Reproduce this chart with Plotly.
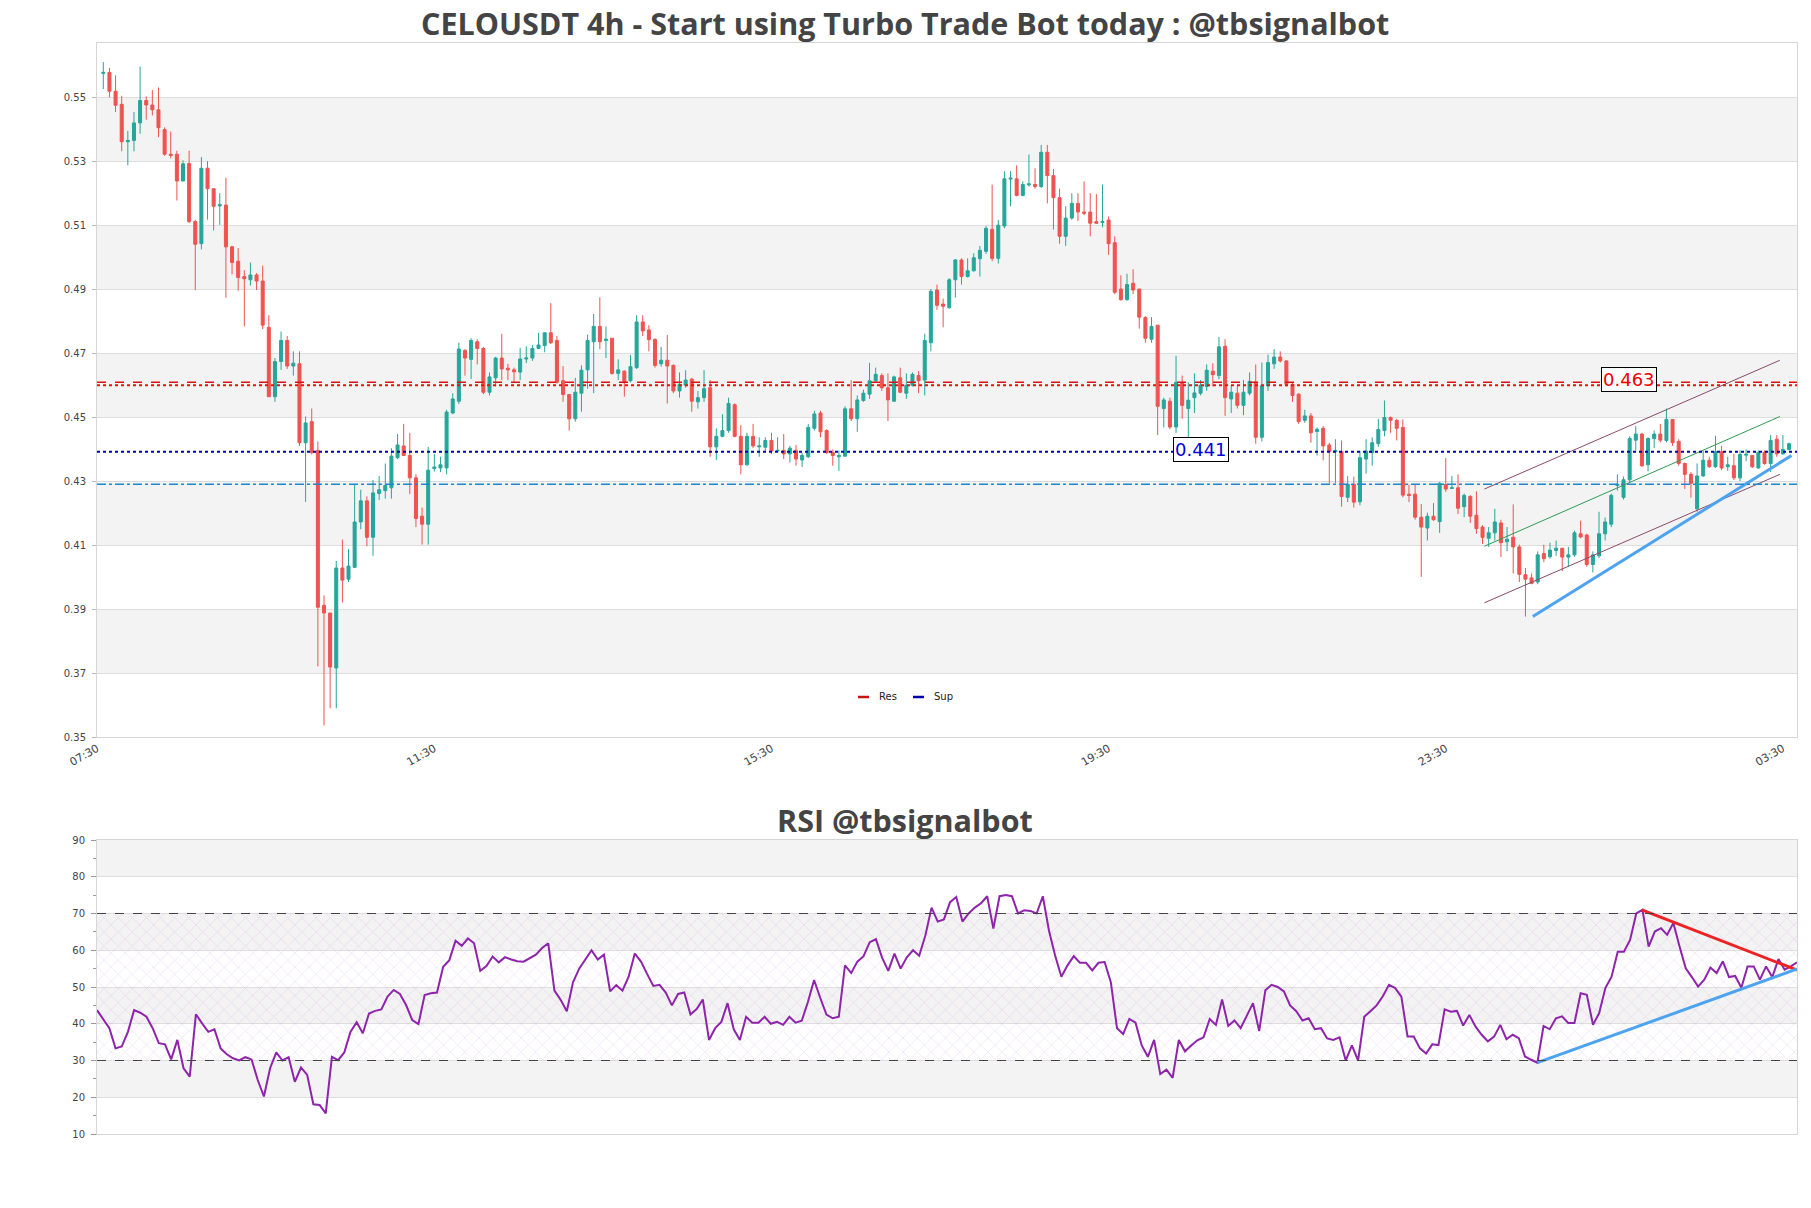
import plotly.graph_objects as go

# ---------------- data ----------------
opens = [0.5577,0.5580,0.5521,0.5480,0.5363,0.5367,0.5422,0.5492,0.5478,0.5463,
0.5401,0.5324,0.5324,0.5240,0.5295,0.5113,0.5044,0.5280,0.5216,0.5162,
0.5165,0.5034,0.4989,0.4941,0.4931,0.4946,0.4927,0.4782,0.4565,0.4675,
0.4741,0.4661,0.4668,0.4421,0.4487,0.4397,0.3912,0.3888,0.3716,0.4029,
0.3994,0.4031,0.4173,0.4239,0.4125,0.4262,0.4271,0.4280,0.4374,0.4411,
0.4381,0.4311,0.4191,0.4166,0.4340,
0.4342,0.4342,0.4514,0.4551,0.4710,0.4682,0.4737,0.4716,0.4579,0.4624,
0.4686,0.4654,0.4649,0.4642,0.4683,0.4686,0.4716,0.4725,0.4765,0.4741,
0.4615,0.4572,0.4496,0.4576,0.4649,0.4737,0.4785,0.4741,0.4748,0.4638,
0.4645,0.4615,0.4656,0.4799,0.4774,0.4744,0.4668,0.4679,0.4663,0.4583,
0.4601,0.4620,0.4549,0.4562,0.4593,0.4408,0.4441,0.4459,0.4540,0.4441,
0.4352,0.4441,0.4408,0.4407,0.4428,0.4395,
0.4397,0.4386,0.4397,0.4367,0.4377,0.4466,0.4514,0.4459,0.4390,0.4377,
0.4379,0.4527,0.4496,0.4553,0.4573,0.4615,0.4631,0.4593,0.4551,0.4624,
0.4576,0.4601,0.4631,0.4617,0.4734,0.4899,0.4855,0.4844,0.4931,0.4993,
0.4941,0.4959,0.4997,0.5020,0.5089,0.4998,0.5099,0.5246,0.5247,0.5195,
0.5228,0.5229,0.5223,0.5330,0.5257,0.5188,0.5067,0.5124,0.5170,0.5143,
0.5143,0.5113,0.5110,0.5118,0.5047,
0.4902,0.4869,0.4920,0.4902,0.4813,0.4745,0.4789,0.4528,0.4551,0.4470,
0.4610,0.4528,0.4562,0.4576,0.4597,0.4645,0.4631,0.4723,0.4558,0.4576,
0.4538,0.4576,0.4610,0.4438,0.4599,0.4668,0.4689,0.4677,0.4604,0.4573,
0.4491,0.4505,0.4456,0.4466,0.4414,0.4393,0.4393,0.4250,0.4291,0.4236,
0.4370,0.4390,0.4418,0.4459,0.4500,0.4491,0.4469,0.4260,0.4260,0.4188,
0.4154,0.4191,0.4174,0.4290,0.4278,
0.4280,0.4221,0.4253,0.4194,0.4157,0.4122,0.4139,0.4170,0.4111,0.4125,
0.4095,0.4008,0.3998,0.3985,0.4074,0.4064,0.4084,0.4091,0.4063,0.4070,
0.4136,0.4132,0.4040,0.4067,0.4136,0.4166,0.4287,0.4250,0.4305,0.4429,
0.4448,0.4352,0.4434,0.4448,0.4428,0.4494,0.4425,0.4356,0.4322,0.4214,
0.4317,0.4366,0.4346,0.4393,0.4346,0.4349,0.4311,0.4382,0.4381,0.4342,
0.4390,0.4356,0.4432,0.4386,0.4400]

highs = [0.5612,0.5594,0.5571,0.5507,0.5397,0.5456,0.5598,0.5505,0.5525,0.5533,
0.5408,0.5395,0.5335,0.5305,0.5335,0.5119,0.5315,0.5302,0.5216,0.5202,
0.5250,0.5037,0.5030,0.4961,0.4985,0.4952,0.4975,0.4820,0.4686,0.4769,
0.4755,0.4707,0.4707,0.4503,0.4528,0.4425,0.3943,0.3888,0.4051,0.4118,
0.4088,0.4291,0.4274,0.4253,0.4304,0.4317,0.4356,0.4404,0.4448,0.4480,
0.4452,0.4322,0.4218,0.4408,0.4386,
0.4377,0.4524,0.4576,0.4734,0.4714,0.4748,0.4745,0.4721,0.4641,0.4690,
0.4762,0.4668,0.4656,0.4718,0.4723,0.4727,0.4765,0.4766,0.4858,0.4755,
0.4661,0.4572,0.4624,0.4663,0.4759,0.4824,0.4876,0.4785,0.4748,0.4682,
0.4648,0.4696,0.4820,0.4820,0.4789,0.4748,0.4721,0.4758,0.4666,0.4641,
0.4648,0.4624,0.4583,0.4648,0.4617,0.4466,0.4510,0.4562,0.4544,0.4476,
0.4452,0.4480,0.4438,0.4438,0.4452,0.4438,
0.4448,0.4411,0.4414,0.4390,0.4480,0.4521,0.4521,0.4463,0.4400,0.4397,
0.4535,0.4617,0.4569,0.4587,0.4671,0.4656,0.4638,0.4638,0.4631,0.4656,
0.4638,0.4641,0.4645,0.4762,0.4902,0.4916,0.4872,0.4936,0.4996,0.4998,
0.4998,0.5014,0.5037,0.5099,0.5229,0.5119,0.5271,0.5271,0.5289,0.5239,
0.5323,0.5280,0.5353,0.5353,0.5278,0.5216,0.5161,0.5202,0.5202,0.5239,
0.5202,0.5199,0.5229,0.5129,0.5067,
0.4945,0.4950,0.4964,0.4902,0.4817,0.4814,0.4789,0.4562,0.4562,0.4693,
0.4631,0.4610,0.4638,0.4617,0.4666,0.4670,0.4752,0.4745,0.4601,0.4601,
0.4617,0.4641,0.4666,0.4672,0.4697,0.4714,0.4707,0.4679,0.4610,0.4576,
0.4524,0.4514,0.4469,0.4473,0.4421,0.4432,0.4428,0.4317,0.4315,0.4395,
0.4432,0.4438,0.4496,0.4553,0.4503,0.4496,0.4494,0.4290,0.4290,0.4229,
0.4202,0.4232,0.4298,0.4373,0.4317,
0.4322,0.4262,0.4257,0.4269,0.4163,0.4157,0.4214,0.4180,0.4157,0.4228,
0.4102,0.4029,0.4012,0.4081,0.4102,0.4108,0.4115,0.4091,0.4095,0.4146,
0.4177,0.4136,0.4081,0.4205,0.4187,0.4262,0.4322,0.4315,0.4441,0.4473,
0.4452,0.4438,0.4459,0.4480,0.4528,0.4494,0.4432,0.4359,0.4329,0.4356,
0.4395,0.4377,0.4443,0.4411,0.4377,0.4386,0.4397,0.4400,0.4381,0.4397,
0.4397,0.4445,0.4445,0.4445,0.4421]

lows = [0.5528,0.5502,0.5456,0.5333,0.5289,0.5333,0.5388,0.5432,0.5445,0.5377,
0.5319,0.5311,0.5179,0.5240,0.5108,0.4899,0.5026,0.5119,0.5085,0.5103,
0.4875,0.4948,0.4897,0.4785,0.4913,0.4899,0.4776,0.4565,0.4549,0.4649,
0.4652,0.4631,0.4411,0.4236,0.4384,0.3721,0.3536,0.3590,0.3590,0.3921,
0.3985,0.4029,0.4150,0.4097,0.4067,0.4242,0.4246,0.4246,0.4370,0.4379,
0.4260,0.4157,0.4102,0.4102,0.4331,
0.4329,0.4322,0.4510,0.4542,0.4631,0.4620,0.4666,0.4573,0.4569,0.4597,
0.4617,0.4617,0.4610,0.4617,0.4670,0.4677,0.4714,0.4704,0.4730,0.4606,
0.4549,0.4459,0.4487,0.4518,0.4590,0.4576,0.4714,0.4686,0.4634,0.4617,
0.4565,0.4610,0.4652,0.4755,0.4707,0.4656,0.4659,0.4544,0.4576,0.4562,
0.4593,0.4518,0.4528,0.4549,0.4377,0.4367,0.4438,0.4452,0.4438,0.4322,
0.4349,0.4404,0.4377,0.4395,0.4386,0.4390,
0.4370,0.4359,0.4349,0.4345,0.4373,0.4459,0.4438,0.4386,0.4349,0.4333,
0.4377,0.4489,0.4455,0.4549,0.4558,0.4608,0.4583,0.4489,0.4549,0.4576,
0.4558,0.4597,0.4576,0.4569,0.4707,0.4837,0.4782,0.4840,0.4875,0.4916,
0.4938,0.4957,0.4941,0.5012,0.4989,0.4982,0.5092,0.5161,0.5192,0.5192,
0.5223,0.5216,0.5218,0.5170,0.5088,0.5044,0.5037,0.5119,0.5115,0.5133,
0.5067,0.5106,0.5095,0.5009,0.4886,
0.4865,0.4865,0.4886,0.4778,0.4734,0.4734,0.4445,0.4469,0.4463,0.4452,
0.4496,0.4432,0.4514,0.4569,0.4583,0.4597,0.4620,0.4505,0.4514,0.4528,
0.4507,0.4569,0.4418,0.4425,0.4583,0.4652,0.4672,0.4597,0.4549,0.4480,
0.4483,0.4421,0.4381,0.4366,0.4294,0.4294,0.4221,0.4235,0.4218,0.4225,
0.4324,0.4349,0.4408,0.4441,0.4452,0.4428,0.4250,0.4235,0.4180,0.4001,
0.4115,0.4177,0.4139,0.4267,0.4276,
0.4198,0.4188,0.4170,0.4136,0.4104,0.4095,0.4115,0.4063,0.4081,0.4012,
0.3985,0.3877,0.3978,0.3978,0.4047,0.4058,0.4067,0.4019,0.4033,0.4064,
0.4122,0.4033,0.4015,0.4060,0.4115,0.4157,0.4271,0.4243,0.4297,0.4397,
0.4345,0.4331,0.4404,0.4422,0.4422,0.4411,0.4349,0.4276,0.4249,0.4205,
0.4315,0.4342,0.4342,0.4335,0.4333,0.4304,0.4301,0.4363,0.4342,0.4340,
0.4352,0.4329,0.4377,0.4384,0.4397]

closes = [0.5580,0.5521,0.5477,0.5363,0.5367,0.5422,0.5492,0.5478,0.5463,0.5407,
0.5324,0.5320,0.5240,0.5294,0.5113,0.5042,0.5280,0.5216,0.5161,0.5166,
0.5034,0.4985,0.4938,0.4934,0.4946,0.4927,0.4789,0.4565,0.4675,0.4741,
0.4661,0.4670,0.4421,0.4483,0.4390,0.3906,0.3888,0.3719,0.4029,0.3991,
0.4035,0.4173,0.4239,0.4125,0.4264,0.4274,0.4287,0.4379,0.4414,0.4381,
0.4311,0.4184,0.4166,0.4335,0.4345,
0.4352,0.4517,0.4558,0.4714,0.4686,0.4741,0.4716,0.4579,0.4627,0.4686,
0.4652,0.4649,0.4643,0.4683,0.4686,0.4716,0.4727,0.4765,0.4734,0.4610,
0.4572,0.4496,0.4579,0.4648,0.4741,0.4785,0.4737,0.4745,0.4638,0.4649,
0.4610,0.4659,0.4799,0.4771,0.4744,0.4663,0.4679,0.4661,0.4583,0.4604,
0.4617,0.4551,0.4562,0.4590,0.4408,0.4441,0.4459,0.4544,0.4441,0.4352,
0.4441,0.4411,0.4411,0.4428,0.4395,0.4397,
0.4386,0.4404,0.4370,0.4381,0.4469,0.4511,0.4455,0.4390,0.4381,0.4381,
0.4527,0.4496,0.4555,0.4576,0.4615,0.4635,0.4593,0.4555,0.4627,0.4579,
0.4601,0.4635,0.4615,0.4741,0.4895,0.4851,0.4848,0.4931,0.4993,0.4941,
0.4959,0.5000,0.5023,0.5092,0.4998,0.5102,0.5247,0.5249,0.5195,0.5229,
0.5231,0.5223,0.5330,0.5257,0.5188,0.5067,0.5124,0.5170,0.5143,0.5139,
0.5108,0.5108,0.5113,0.5044,0.4892,
0.4869,0.4916,0.4899,0.4814,0.4748,0.4785,0.4535,0.4555,0.4470,0.4610,
0.4538,0.4554,0.4577,0.4601,0.4648,0.4634,0.4721,0.4562,0.4579,0.4538,
0.4579,0.4613,0.4438,0.4599,0.4672,0.4689,0.4677,0.4604,0.4569,0.4487,
0.4505,0.4452,0.4463,0.4411,0.4393,0.4397,0.4253,0.4291,0.4235,0.4374,
0.4395,0.4421,0.4462,0.4500,0.4491,0.4466,0.4257,0.4256,0.4188,0.4157,
0.4191,0.4180,0.4294,0.4276,0.4280,
0.4216,0.4256,0.4191,0.4152,0.4125,0.4139,0.4173,0.4108,0.4119,0.4095,
0.4009,0.3994,0.3981,0.4070,0.4058,0.4085,0.4091,0.4063,0.4070,0.4139,
0.4126,0.4040,0.4070,0.4136,0.4173,0.4256,0.4291,0.4305,0.4434,0.4448,
0.4349,0.4434,0.4448,0.4429,0.4494,0.4421,0.4356,0.4322,0.4294,0.4317,
0.4366,0.4346,0.4393,0.4342,0.4352,0.4311,0.4384,0.4385,0.4346,0.4390,
0.4356,0.4428,0.4386,0.4400,0.4418]

rsi = [43.7,41.2,38.8,33.3,33.8,37.8,43.7,43.0,41.9,38.8,
34.7,34.4,30.3,35.6,27.9,25.6,42.6,40.1,37.8,38.5,
33.3,31.7,30.6,30.0,30.9,30.3,24.7,20.2,27.9,32.2,
30.0,30.9,24.2,28.1,26.1,18.1,17.9,15.6,31.0,30.1,
32.2,37.8,40.4,37.4,42.8,43.5,43.9,47.4,49.2,48.1,
45.1,41.0,39.9,47.8,48.3,48.5,55.5,57.3,62.6,61.2,
63.2,61.9,54.4,55.7,58.3,56.7,58.1,57.5,57.0,56.9,
57.8,58.8,60.6,61.9,49.0,46.5,43.4,51.3,55.0,57.5,
60.0,57.5,58.8,48.8,50.5,49.0,52.8,59.1,56.9,53.5,
50.3,50.6,48.5,45.0,48.1,48.5,42.5,44.0,46.6,35.6,
38.8,40.5,45.6,38.5,35.6,41.9,40.3,40.3,41.9,40.0,
40.5,39.7,41.9,40.3,40.8,45.9,51.9,47.0,42.5,41.5,
41.9,55.9,53.8,56.9,58.4,62.2,63.0,58.0,54.4,59.1,
55.0,58.1,60.0,58.5,64.0,71.6,67.8,68.4,73.1,74.5,
67.8,70.0,71.6,72.8,74.7,65.9,74.7,75.0,74.7,70.0,
70.9,70.7,70.0,74.7,65.3,58.5,52.8,55.9,58.4,56.6,
56.6,54.5,56.6,56.8,51.3,38.8,37.2,41.3,40.3,34.1,
31.0,35.6,26.3,27.5,25.3,35.6,32.5,34.1,35.5,36.3,
41.3,39.7,46.6,39.4,40.9,38.8,42.0,45.6,38.0,49.1,
50.6,50.0,48.8,45.0,43.4,40.9,41.5,38.5,38.8,36.0,
35.6,36.3,30.0,34.1,30.0,41.9,43.4,45.0,47.5,50.6,
49.7,47.4,36.5,36.5,33.3,31.9,34.4,34.2,43.9,43.3,
43.5,39.5,42.4,39.2,37.0,35.2,36.5,39.7,35.8,37.0,
36.1,31.1,30.2,29.4,39.4,38.5,41.5,42.0,40.2,40.2,
48.3,47.9,39.7,42.9,49.7,52.8,59.6,59.6,62.8,70.0,
71.0,61.0,65.1,66.0,64.2,67.4,61.0,55.1,52.7,50.1,
52.0,55.3,53.8,57.0,52.7,53.0,49.8,55.6,55.6,52.0,
55.6,52.7,57.6,54.7,55.6,56.7]

candle_index = list(range(len(closes)))
tick_positions = [-1, 54, 109, 164, 219, 274]
tick_labels = ["07:30", "11:30", "15:30", "19:30", "23:30", "03:30"]
price_ticks = [0.35, 0.37, 0.39, 0.41, 0.43, 0.45, 0.47, 0.49, 0.51, 0.53, 0.55]

res_dashed = 0.4610
res_dotted = 0.4601
sup_dotted = 0.4393
mid_dashdot = 0.4291
res_label, res_label_x, res_label_y = "0.463", 248.9, 0.4620
sup_label, sup_label_x, sup_label_y = "0.441", 179.0, 0.4401

chan_x = [225.3, 273.5]
chan_upper = [0.4276, 0.4679]
chan_mid = [0.4097, 0.4503]
chan_lower = [0.3920, 0.4322]
trend_x = [233.2, 275.4]
trend_y = [0.3877, 0.4381]

rsi_res_x, rsi_res_y = [249.9, 275.0], [71.0, 54.6]
rsi_sup_x, rsi_sup_y = [233.0, 275.0], [29.4, 54.9]

legend_names = ["Res", "Sup"]
legend_colors = ["#cc1111", "#0000aa"]

# ---------------- figure ----------------
GREEN = "#26a69a"
RED = "#ef5350"
TICKFONT = dict(family="DejaVu Sans", size=10, color="#444444")
XTICKFONT = dict(family="DejaVu Sans", size=11, color="#444444")
GRID = "#dedede"
FRAME = "#d6d6d6"
BAND = "#f3f3f3"

# pixel helpers for paper coordinates (plot area: x 97..1797, y 43..1134)
def px_x(p):
    return (p - 97) / 1700.0

def px_y(p):
    return (1134 - p) / 1091.0

fig = go.Figure()

fig.add_trace(go.Candlestick(
    x=candle_index, open=opens, high=highs, low=lows, close=closes,
    increasing=dict(line=dict(color=GREEN, width=1), fillcolor=GREEN),
    decreasing=dict(line=dict(color=RED, width=1), fillcolor=RED),
    whiskerwidth=0, showlegend=False, xaxis="x", yaxis="y", hoverinfo="skip"))

# channel and trend lines
fig.add_trace(go.Scatter(x=chan_x, y=chan_upper, mode="lines", line=dict(color="#8a4a6a", width=1),
                         showlegend=False, xaxis="x", yaxis="y"))
fig.add_trace(go.Scatter(x=chan_x, y=chan_mid, mode="lines", line=dict(color="#2e9a55", width=1),
                         showlegend=False, xaxis="x", yaxis="y"))
fig.add_trace(go.Scatter(x=chan_x, y=chan_lower, mode="lines", line=dict(color="#8a4a6a", width=1),
                         showlegend=False, xaxis="x", yaxis="y"))
fig.add_trace(go.Scatter(x=trend_x, y=trend_y, mode="lines", line=dict(color="#4da3f0", width=3),
                         showlegend=False, xaxis="x", yaxis="y"))

# RSI hatch zone 30-70
fig.add_trace(go.Scatter(x=[0, 275, 275, 0, 0], y=[30, 30, 70, 70, 30], mode="none", fill="toself",
                         fillcolor="rgba(255,255,255,0)",
                         fillpattern=dict(shape="x", fgcolor="rgba(175,120,205,0.50)", size=10, solidity=0.12),
                         showlegend=False, hoverinfo="skip", xaxis="x2", yaxis="y2"))
fig.add_trace(go.Scatter(x=candle_index, y=rsi, mode="lines", line=dict(color="#8e24aa", width=2),
                         showlegend=False, xaxis="x2", yaxis="y2"))
fig.add_trace(go.Scatter(x=rsi_res_x, y=rsi_res_y, mode="lines", line=dict(color="#ee2222", width=3),
                         showlegend=False, xaxis="x2", yaxis="y2"))
fig.add_trace(go.Scatter(x=rsi_sup_x, y=rsi_sup_y, mode="lines", line=dict(color="#4da3f0", width=3),
                         showlegend=False, xaxis="x2", yaxis="y2"))

shapes = []
# price background bands
for lo in [0.37, 0.41, 0.45, 0.49, 0.53]:
    shapes.append(dict(type="rect", xref="x domain", yref="y", x0=0, x1=1, y0=lo, y1=lo + 0.02,
                       fillcolor=BAND, line=dict(width=0), layer="below"))
# RSI background bands
for lo in [20, 40, 60, 80]:
    shapes.append(dict(type="rect", xref="x2 domain", yref="y2", x0=0, x1=1, y0=lo, y1=lo + 10,
                       fillcolor=BAND, line=dict(width=0), layer="below"))
# level lines
shapes.append(dict(type="line", xref="x domain", yref="y", x0=0, x1=1, y0=res_dashed, y1=res_dashed,
                   line=dict(color="#dd1111", width=1.5, dash="dash")))
shapes.append(dict(type="line", xref="x domain", yref="y", x0=0, x1=1, y0=res_dotted, y1=res_dotted,
                   line=dict(color="#ee1111", width=2, dash="dot")))
shapes.append(dict(type="line", xref="x domain", yref="y", x0=0, x1=1, y0=sup_dotted, y1=sup_dotted,
                   line=dict(color="#0000bb", width=2, dash="dot")))
shapes.append(dict(type="line", xref="x domain", yref="y", x0=0, x1=1, y0=mid_dashdot, y1=mid_dashdot,
                   line=dict(color="#1f86d0", width=1.4, dash="dashdot")))
for lvl in [30, 70]:
    shapes.append(dict(type="line", xref="x2 domain", yref="y2", x0=0, x1=1, y0=lvl, y1=lvl,
                       line=dict(color="#444444", width=1.2, dash="dash")))

annotations = [
    dict(text="<b>CELOUSDT 4h - Start using Turbo Trade Bot today : @tbsignalbot</b>",
         xref="paper", yref="paper", x=px_x(905), y=px_y(23), xanchor="center", yanchor="middle",
         showarrow=False, font=dict(family="Open Sans", size=30.5, color="#444444")),
    dict(text="<b>RSI @tbsignalbot</b>",
         xref="paper", yref="paper", x=px_x(905), y=px_y(820), xanchor="center", yanchor="middle",
         showarrow=False, font=dict(family="Open Sans", size=30.5, color="#444444")),
    dict(text=res_label, x=res_label_x, y=res_label_y, xref="x", yref="y", showarrow=False,
         font=dict(family="DejaVu Sans", size=18, color="#ee0000"), bgcolor="white",
         bordercolor="black", borderwidth=1, borderpad=1),
    dict(text=sup_label, x=sup_label_x, y=sup_label_y, xref="x", yref="y", showarrow=False,
         font=dict(family="DejaVu Sans", size=18, color="#0000dd"), bgcolor="white",
         bordercolor="black", borderwidth=1, borderpad=1),
]

# manual legend (short line samples like the reference)
legend_line_x = [858, 913]
for name, col, lx in zip(legend_names, legend_colors, legend_line_x):
    shapes.append(dict(type="line", xref="paper", yref="paper", x0=px_x(lx), x1=px_x(lx + 11),
                       y0=px_y(697), y1=px_y(697), line=dict(color=col, width=2.5)))
    annotations.append(dict(text=name, xref="paper", yref="paper", x=px_x(lx + 19), y=px_y(696),
                            xanchor="left", yanchor="middle", showarrow=False,
                            font=dict(family="DejaVu Sans", size=10, color="#222222")))

fig.update_layout(
    width=1811, height=1208,
    margin=dict(l=97, r=14, t=43, b=74),
    paper_bgcolor="white", plot_bgcolor="white",
    shapes=shapes, annotations=annotations,
    showlegend=False,
    xaxis=dict(domain=[0, 1], anchor="y", range=[-1.03, 276.3], tickmode="array",
               tickvals=tick_positions, ticktext=tick_labels, tickangle=-30, tickfont=XTICKFONT,
               showgrid=False, zeroline=False, showline=True, mirror=True, linecolor=FRAME,
               ticks="", rangeslider=dict(visible=False)),
    yaxis=dict(domain=[px_y(737), 1], anchor="x", range=[0.35, 0.5672], tickmode="array",
               tickvals=price_ticks, ticktext=["%.2f" % v for v in price_ticks], tickfont=TICKFONT,
               showgrid=True, gridcolor=GRID, gridwidth=1, zeroline=False, showline=True, mirror=True,
               linecolor=FRAME, ticks="outside", ticklen=4, tickcolor="#bbbbbb", ticklabelstandoff=4),
    xaxis2=dict(domain=[0, 1], anchor="y2", range=[0, 275], showticklabels=False, showgrid=False,
                zeroline=False, showline=True, mirror=True, linecolor=FRAME, ticks=""),
    yaxis2=dict(domain=[0, px_y(840)], anchor="x2", range=[10, 90], dtick=10, tick0=10,
                tickfont=TICKFONT, showgrid=True, gridcolor=GRID, zeroline=False, showline=True,
                mirror=True, linecolor=FRAME, ticks="outside", ticklen=5, tickcolor="#999999",
                ticklabelstandoff=4,
                minor=dict(dtick=5, tick0=10, ticks="outside", ticklen=3, tickcolor="#999999", showgrid=False)),
)

fig.write_html("out.html")
